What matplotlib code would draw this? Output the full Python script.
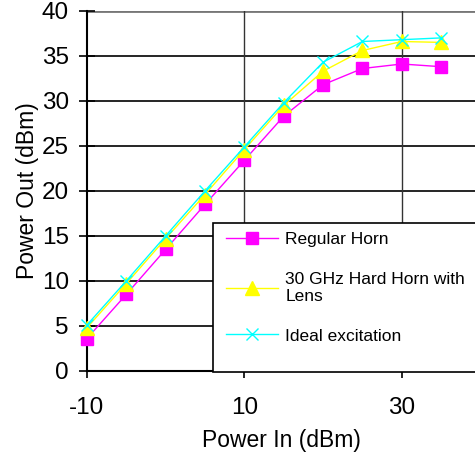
import matplotlib
matplotlib.use("Agg")
import matplotlib.pyplot as plt
from matplotlib.patches import Rectangle

plt.rcParams['font.family'] = ['Liberation Sans', 'DejaVu Sans']
plt.rcParams['axes.unicode_minus'] = False

# potencia de entrada (dBm)
power_in = [-10, -5, 0, 5, 10, 15, 20, 25, 30, 35]
# potencia de saida de cada configuracao (dBm)
regular_horn = [3.6, 8.5, 13.5, 18.5, 23.4, 28.3, 31.8, 33.6, 34.1, 33.8]
hard_horn_lens = [4.8, 9.7, 14.7, 19.6, 24.6, 29.5, 33.3, 35.6, 36.6, 36.5]
ideal = [5.1, 10.0, 15.0, 20.0, 24.9, 29.8, 34.3, 36.6, 36.8, 37.0]

labels = ["Regular Horn", "30 GHz Hard Horn with\nLens", "Ideal excitation"]
x_ticks = [-10, 10, 30]
y_ticks = list(range(0, 45, 5))

fig = plt.figure(figsize=(4.75, 4.54), dpi=100)
ax = fig.add_axes([0.183, 0.183, 0.817, 0.793])

ax.plot(power_in, regular_horn, color='#ff00ff', lw=1, marker='s', ms=8.5,
        mec='#ff00ff', label=labels[0], clip_on=False, zorder=3)
ax.plot(power_in, hard_horn_lens, color='#ffff00', lw=1, marker='^', ms=9.5,
        mec='#ffff00', label=labels[1], clip_on=False, zorder=4)
ax.plot(power_in, ideal, color='#00ffff', lw=1, marker='x', ms=9, mew=1,
        label=labels[2], clip_on=False, zorder=5)

ax.set_xlim(-10, 39.3)
ax.set_ylim(0, 40)
ax.set_xticks(x_ticks)
ax.set_yticks(y_ticks)

# grade: horizontais pretas, verticais so em 10 e 30
for y in y_ticks[1:]:
    ax.axhline(y, color='black', lw=1.2, zorder=1)
ax.axhline(40, color='#777777', lw=2, zorder=1)
for x in x_ticks[1:]:
    ax.axvline(x, color='#333333', lw=1, zorder=1)

ax.spines['top'].set_visible(False)
ax.spines['right'].set_visible(False)
ax.spines['left'].set_linewidth(1.5)
ax.spines['bottom'].set_linewidth(1.5)
ax.tick_params(axis='y', direction='inout', length=12, width=1.2, labelsize=17.5, pad=7)
ax.tick_params(axis='x', direction='out', length=5, width=1.2, labelsize=17.5, pad=14)

ax.set_xlabel("Power In (dBm)", fontsize=16.5, labelpad=7)
ax.set_ylabel("Power Out (dBm)", fontsize=16.5, labelpad=2)

# caixa da legenda desenhada a parte para ocupar ate o eixo x
fig.patches.append(Rectangle((213 / 475, 1 - 372 / 454), 0.6, 149 / 454,
                             transform=fig.transFigure, facecolor='white',
                             edgecolor='black', lw=1.2, zorder=6))
leg = fig.legend(loc='upper left', bbox_to_anchor=(221 / 475, 1 - 227 / 454),
                 fontsize=12.5, frameon=False, handlelength=3.0, handletextpad=0.4,
                 labelspacing=1.4, borderpad=0.3, borderaxespad=0)
leg.set_zorder(7)

fig.savefig("out.png", dpi=100)
